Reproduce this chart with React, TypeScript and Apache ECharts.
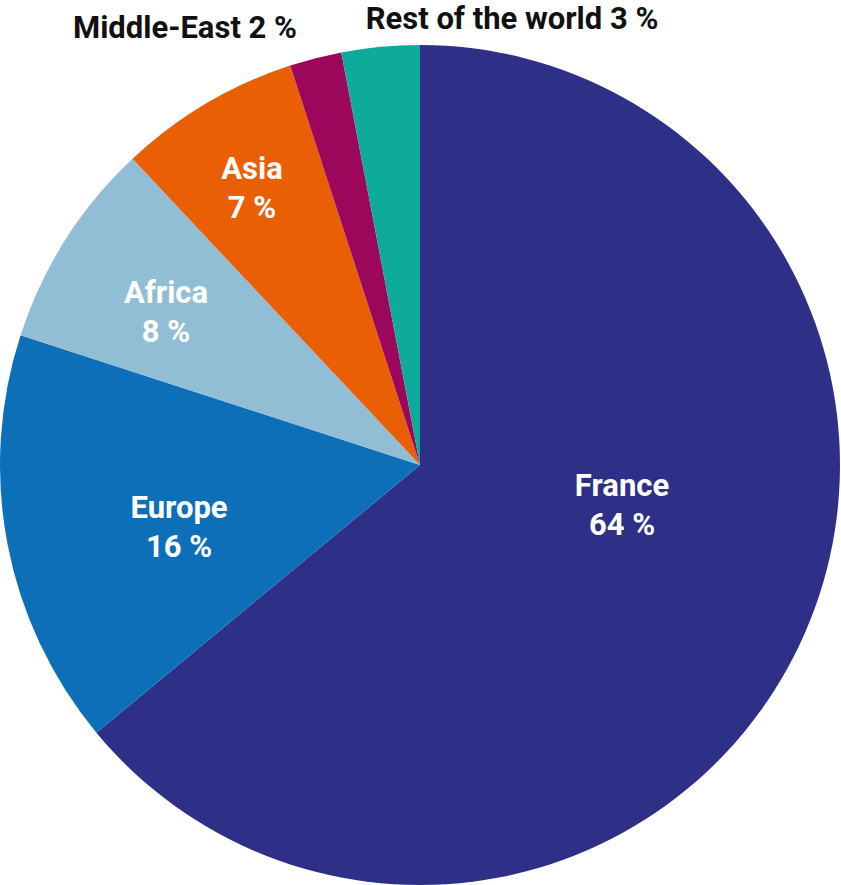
import { useEffect, useRef } from 'react';
import * as echarts from 'echarts';

const regions = ['France', 'Europe', 'Africa', 'Asia', 'Middle-East', 'Rest of the world'];
const shares = [64, 16, 8, 7, 2, 3];
const colors = ['#2e3087', '#0d6fb8', '#92bed5', '#ea5f04', '#9c075b', '#0eab9d'];
// where each label sits (centre of the text block), in pixels
const labelPos: [number, number][] = [
  [622, 505],
  [179, 527],
  [166, 312],
  [252, 188],
  [185, 27],
  [512, 18]
];
const outside = [false, false, false, false, true, true];

const App = () => {
  const chartRef = useRef<HTMLDivElement>(null);

  useEffect(() => {
    document.body.style.margin = '0';
    if (!chartRef.current) return;
    const chart = echarts.init(chartRef.current, undefined, { renderer: 'svg' });

    const data = regions.map((name, i) => ({
      name,
      value: shares[i],
      itemStyle: { color: colors[i] },
      label: outside[i]
        ? { formatter: '{b} {c} %', color: '#111111' }
        : { formatter: '{b}\n{c} %', color: '#ffffff' }
    }));

    chart.setOption({
      animation: false,
      series: [
        {
          type: 'pie',
          center: [420, 465],
          radius: [0, 420],
          startAngle: 90,
          clockwise: true,
          avoidLabelOverlap: false,
          silent: true,
          label: {
            show: true,
            position: 'inside',
            fontFamily: 'Roboto',
            fontWeight: 'bold',
            fontSize: 31,
            lineHeight: 39
          },
          labelLine: { show: false },
          labelLayout: (params: any) => ({
            x: labelPos[params.dataIndex][0],
            y: labelPos[params.dataIndex][1],
            align: 'center',
            verticalAlign: 'middle'
          }),
          data
        }
      ]
    });

    return () => {
      chart.dispose();
    };
  }, []);

  return <div ref={chartRef} style={{ width: '841px', height: '885px' }} />;
};

export default App;
